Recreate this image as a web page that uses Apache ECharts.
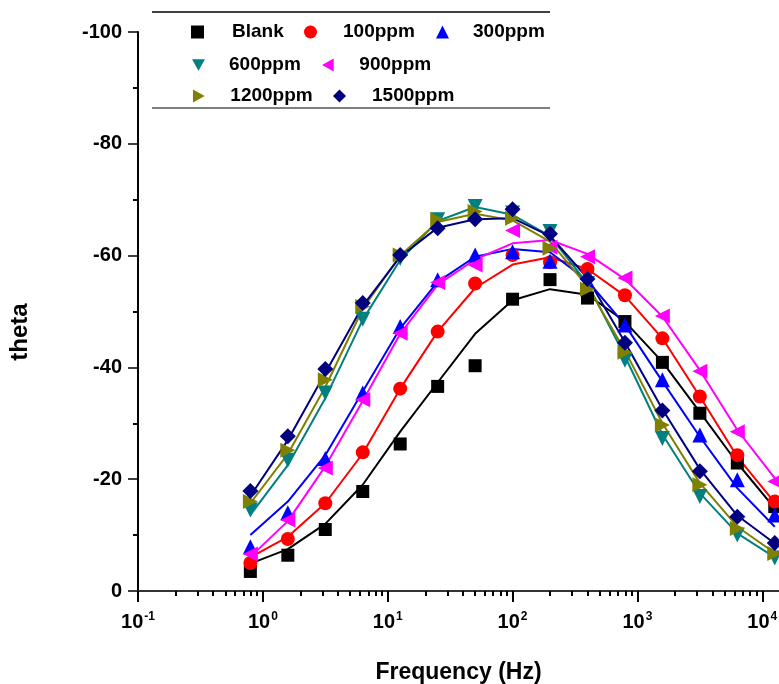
<!DOCTYPE html>
<html>
<head>
<meta charset="utf-8">
<title>theta vs Frequency</title>
<script src="https://cdn.jsdelivr.net/npm/echarts@6/dist/echarts.min.js"></script>
<style>
  html, body { margin: 0; padding: 0; background: #fff; overflow: hidden; }
  #chart { width: 779px; height: 684px; }
</style>
</head>
<body>
<div id="chart"></div>
<script>
// Frequencies (Hz) of the measured points
const freq = [0.794, 1.585, 3.162, 6.310, 12.59, 25.12, 50.12, 100, 199.5, 398.1, 794.3, 1585, 3162, 6310, 12589];

// Measured phase angle (theta, degrees)
const blank   = [-3.5, -6.4, -11.0, -17.8, -26.3, -36.6, -40.3, -52.2, -55.7, -52.4, -48.2, -40.9, -31.8, -22.9, -15.1];
const p100    = [-5.0, -9.3, -15.7, -24.8, -36.2, -46.4, -55.0, -60.1, -58.8, -57.6, -52.9, -45.2, -34.8, -24.3, -16.0];
const p300    = [-7.9, -14.0, -23.7, -35.4, -47.3, -55.7, -60.1, -60.7, -59.0, -55.4, -47.6, -37.8, -27.9, -19.9, -13.6];
const p600    = [-14.5, -23.4, -35.4, -48.6, -59.5, -66.4, -68.8, -67.6, -64.3, -55.0, -41.3, -27.3, -16.9, -10.0, -5.9];
const p900    = [-6.6, -12.7, -22.0, -34.2, -46.1, -55.2, -58.3, -64.5, -61.5, -59.8, -56.0, -49.2, -39.3, -28.5, -19.6];
const p1200   = [-16.0, -25.2, -37.8, -50.9, -60.1, -66.4, -67.9, -66.7, -61.3, -54.0, -42.7, -29.7, -19.0, -11.2, -6.7];
const p1500   = [-17.9, -27.7, -39.7, -51.5, -60.1, -64.9, -66.5, -68.3, -63.9, -55.8, -44.4, -32.3, -21.4, -13.3, -8.6];

// Fitted curves evaluated at the same frequencies
const blankFit = [-4.9, -7.5, -12.0, -19.0, -28.5, -37.3, -46.0, -52.0, -54.0, -53.0, -48.2, -41.0, -32.0, -22.9, -14.8];
const p100Fit  = [-6.0, -9.7, -15.7, -24.6, -36.2, -46.4, -54.2, -58.4, -59.7, -57.6, -52.8, -45.2, -34.8, -24.0, -15.8];
const p300Fit  = [-10.0, -16.0, -24.3, -35.7, -47.0, -55.3, -59.8, -61.2, -60.6, -55.5, -47.6, -37.5, -27.6, -18.4, -11.5];
const p600Fit  = [-13.6, -22.5, -34.5, -48.5, -59.2, -66.2, -68.7, -67.3, -63.5, -55.0, -42.0, -28.0, -17.5, -10.3, -6.0];
const p900Fit  = [-6.1, -12.5, -22.3, -34.0, -46.0, -54.8, -59.3, -62.2, -62.8, -60.3, -55.8, -49.1, -39.5, -28.8, -20.2];
const p1200Fit = [-15.7, -24.5, -36.5, -50.5, -60.0, -66.0, -67.5, -66.3, -62.5, -54.5, -43.0, -30.0, -19.3, -11.5, -6.8];
const p1500Fit = [-17.0, -27.0, -39.0, -51.0, -59.8, -65.0, -66.5, -66.7, -63.5, -56.0, -44.5, -32.5, -21.8, -13.5, -8.5];

// Axis ticks
const xMajorTicks = [0.1, 1, 10, 100, 1000, 10000];
const xMinorTicks = [
  0.2, 0.3, 0.4, 0.5, 0.6, 0.7, 0.8, 0.9,
  2, 3, 4, 5, 6, 7, 8, 9,
  20, 30, 40, 50, 60, 70, 80, 90,
  200, 300, 400, 500, 600, 700, 800, 900,
  2000, 3000, 4000, 5000, 6000, 7000, 8000, 9000
];
const xExponents = { 0.1: '-1', 1: '0', 10: '1', 100: '2', 1000: '3', 10000: '4' };

const FONT = 'Liberation Sans, Arial, sans-serif';

const seriesDefs = [
  { name: 'Blank',   color: '#000000', symbol: 'rect',                      size: 13, pts: blank, fit: blankFit },
  { name: '100ppm',  color: '#ff0000', symbol: 'circle',                    size: 14, pts: p100,  fit: p100Fit },
  { name: '300ppm',  color: '#0000ff', symbol: 'triangle',                  size: 15, pts: p300,  fit: p300Fit },
  { name: '600ppm',  color: '#008080', symbol: 'path://M0,0L10,0L5,9Z',     size: 15, pts: p600,  fit: p600Fit },
  { name: '900ppm',  color: '#ff00ff', symbol: 'path://M9,0L9,10L0,5Z',     size: 15, pts: p900,  fit: p900Fit },
  { name: '1200ppm', color: '#808000', symbol: 'path://M0,0L0,10L9,5Z',     size: 15, pts: p1200, fit: p1200Fit },
  { name: '1500ppm', color: '#000080', symbol: 'diamond',                   size: 16, pts: p1500, fit: p1500Fit }
];

const series = [];
seriesDefs.forEach(function (d) {
  series.push({
    name: d.name + ' fit',
    type: 'line',
    data: freq.map(function (f, i) { return [f, d.fit[i]]; }),
    showSymbol: false,
    lineStyle: { color: d.color, width: 2 },
    itemStyle: { color: d.color },
    z: 2,
    silent: true,
    animation: false
  });
});
seriesDefs.forEach(function (d) {
  series.push({
    name: d.name,
    type: 'scatter',
    data: freq.map(function (f, i) { return [f, d.pts[i]]; }),
    symbol: d.symbol,
    symbolSize: d.size,
    itemStyle: { color: d.color, opacity: 1 },
    z: 3,
    animation: false
  });
});

// One legend block per entry, laid out in three rows
const legendSpots = [
  { name: 'Blank',   icon: 'rect',                  left: 191, top: 22, pad: 24 },
  { name: '100ppm',  icon: 'circle',                left: 304, top: 22, pad: 22 },
  { name: '300ppm',  icon: 'triangle',              left: 436, top: 22, pad: 20 },
  { name: '600ppm',  icon: 'path://M0,0L10,0L5,9Z', left: 192, top: 55, pad: 20 },
  { name: '900ppm',  icon: 'path://M9,0L9,10L0,5Z', left: 322, top: 55, pad: 21 },
  { name: '1200ppm', icon: 'path://M0,0L0,10L9,5Z', left: 193, top: 86, pad: 21 },
  { name: '1500ppm', icon: 'diamond',               left: 333, top: 86, pad: 22 }
];
const legends = legendSpots.map(function (s) {
  return {
    data: [{ name: s.name, icon: s.icon }],
    left: s.left,
    top: s.top,
    padding: 0,
    itemWidth: 13,
    itemHeight: 13,
    selectedMode: false,
    textStyle: {
      fontFamily: FONT, fontWeight: 'bold', fontSize: 19, color: '#000',
      lineHeight: 20, padding: [0, 0, 0, s.pad - 1]
    }
  };
});

const chart = echarts.init(document.getElementById('chart'), null, { renderer: 'canvas' });
chart.setOption({
  backgroundColor: '#ffffff',
  animation: false,
  legend: legends,
  grid: { left: 138, right: 0, top: 32, bottom: 93, containLabel: false, outerBoundsMode: 'none' },
  xAxis: [
    {
      type: 'log',
      logBase: 10,
      min: 0.1,
      max: 13610,
      position: 'bottom',
      name: 'Frequency (Hz)',
      nameLocation: 'middle',
      nameGap: 70,
      nameTextStyle: { fontFamily: FONT, fontWeight: 'bold', fontSize: 23, color: '#000' },
      axisLine: { show: true, lineStyle: { color: '#333', width: 2 } },
      axisTick: { show: true, inside: false, length: 11, lineStyle: { color: '#000', width: 2 }, customValues: xMajorTicks },
      axisLabel: {
        show: true,
        margin: 20,
        customValues: xMajorTicks,
        formatter: function (v) {
          const e = xExponents[v];
          return e === undefined ? '' : '{b|10}{s|' + e + '}';
        },
        rich: {
          b: { fontFamily: FONT, fontWeight: 'bold', fontSize: 20, color: '#000', lineHeight: 22 },
          s: { fontFamily: FONT, fontWeight: 'bold', fontSize: 12, color: '#000', lineHeight: 22, verticalAlign: 'top', padding: [0, 0, 0, 1] }
        }
      },
      splitLine: { show: false }
    },
    {
      type: 'log',
      logBase: 10,
      min: 0.1,
      max: 13610,
      position: 'bottom',
      offset: 0,
      axisLine: { show: false },
      axisTick: { show: true, inside: false, length: 5, lineStyle: { color: '#000', width: 2 }, customValues: xMinorTicks },
      axisLabel: { show: false },
      splitLine: { show: false }
    }
  ],
  yAxis: {
    type: 'value',
    inverse: true,
    min: -100,
    max: 0,
    interval: 20,
    name: 'theta',
    nameLocation: 'middle',
    nameGap: 106,
    nameTextStyle: { fontFamily: FONT, fontWeight: 'bold', fontSize: 24, color: '#000', padding: [0, 41, 0, 0] },
    axisLine: { show: true, lineStyle: { color: '#000', width: 2 } },
    axisTick: { show: true, inside: false, length: 10, lineStyle: { color: '#000', width: 1.5 } },
    minorTick: { show: true, splitNumber: 2, length: 5, lineStyle: { color: '#000', width: 2 } },
    axisLabel: { margin: 16, fontFamily: FONT, fontWeight: 'bold', fontSize: 20, color: '#000' },
    splitLine: { show: false }
  },
  graphic: [
    { type: 'line', shape: { x1: 152, y1: 12, x2: 550, y2: 12 }, style: { stroke: '#000', lineWidth: 1.5 }, silent: true },
    { type: 'line', shape: { x1: 152, y1: 108, x2: 550, y2: 108 }, style: { stroke: '#555', lineWidth: 1.5 }, silent: true }
  ],
  series: series.map(function (s) { s.xAxisIndex = 0; return s; })
});
</script>
</body>
</html>
